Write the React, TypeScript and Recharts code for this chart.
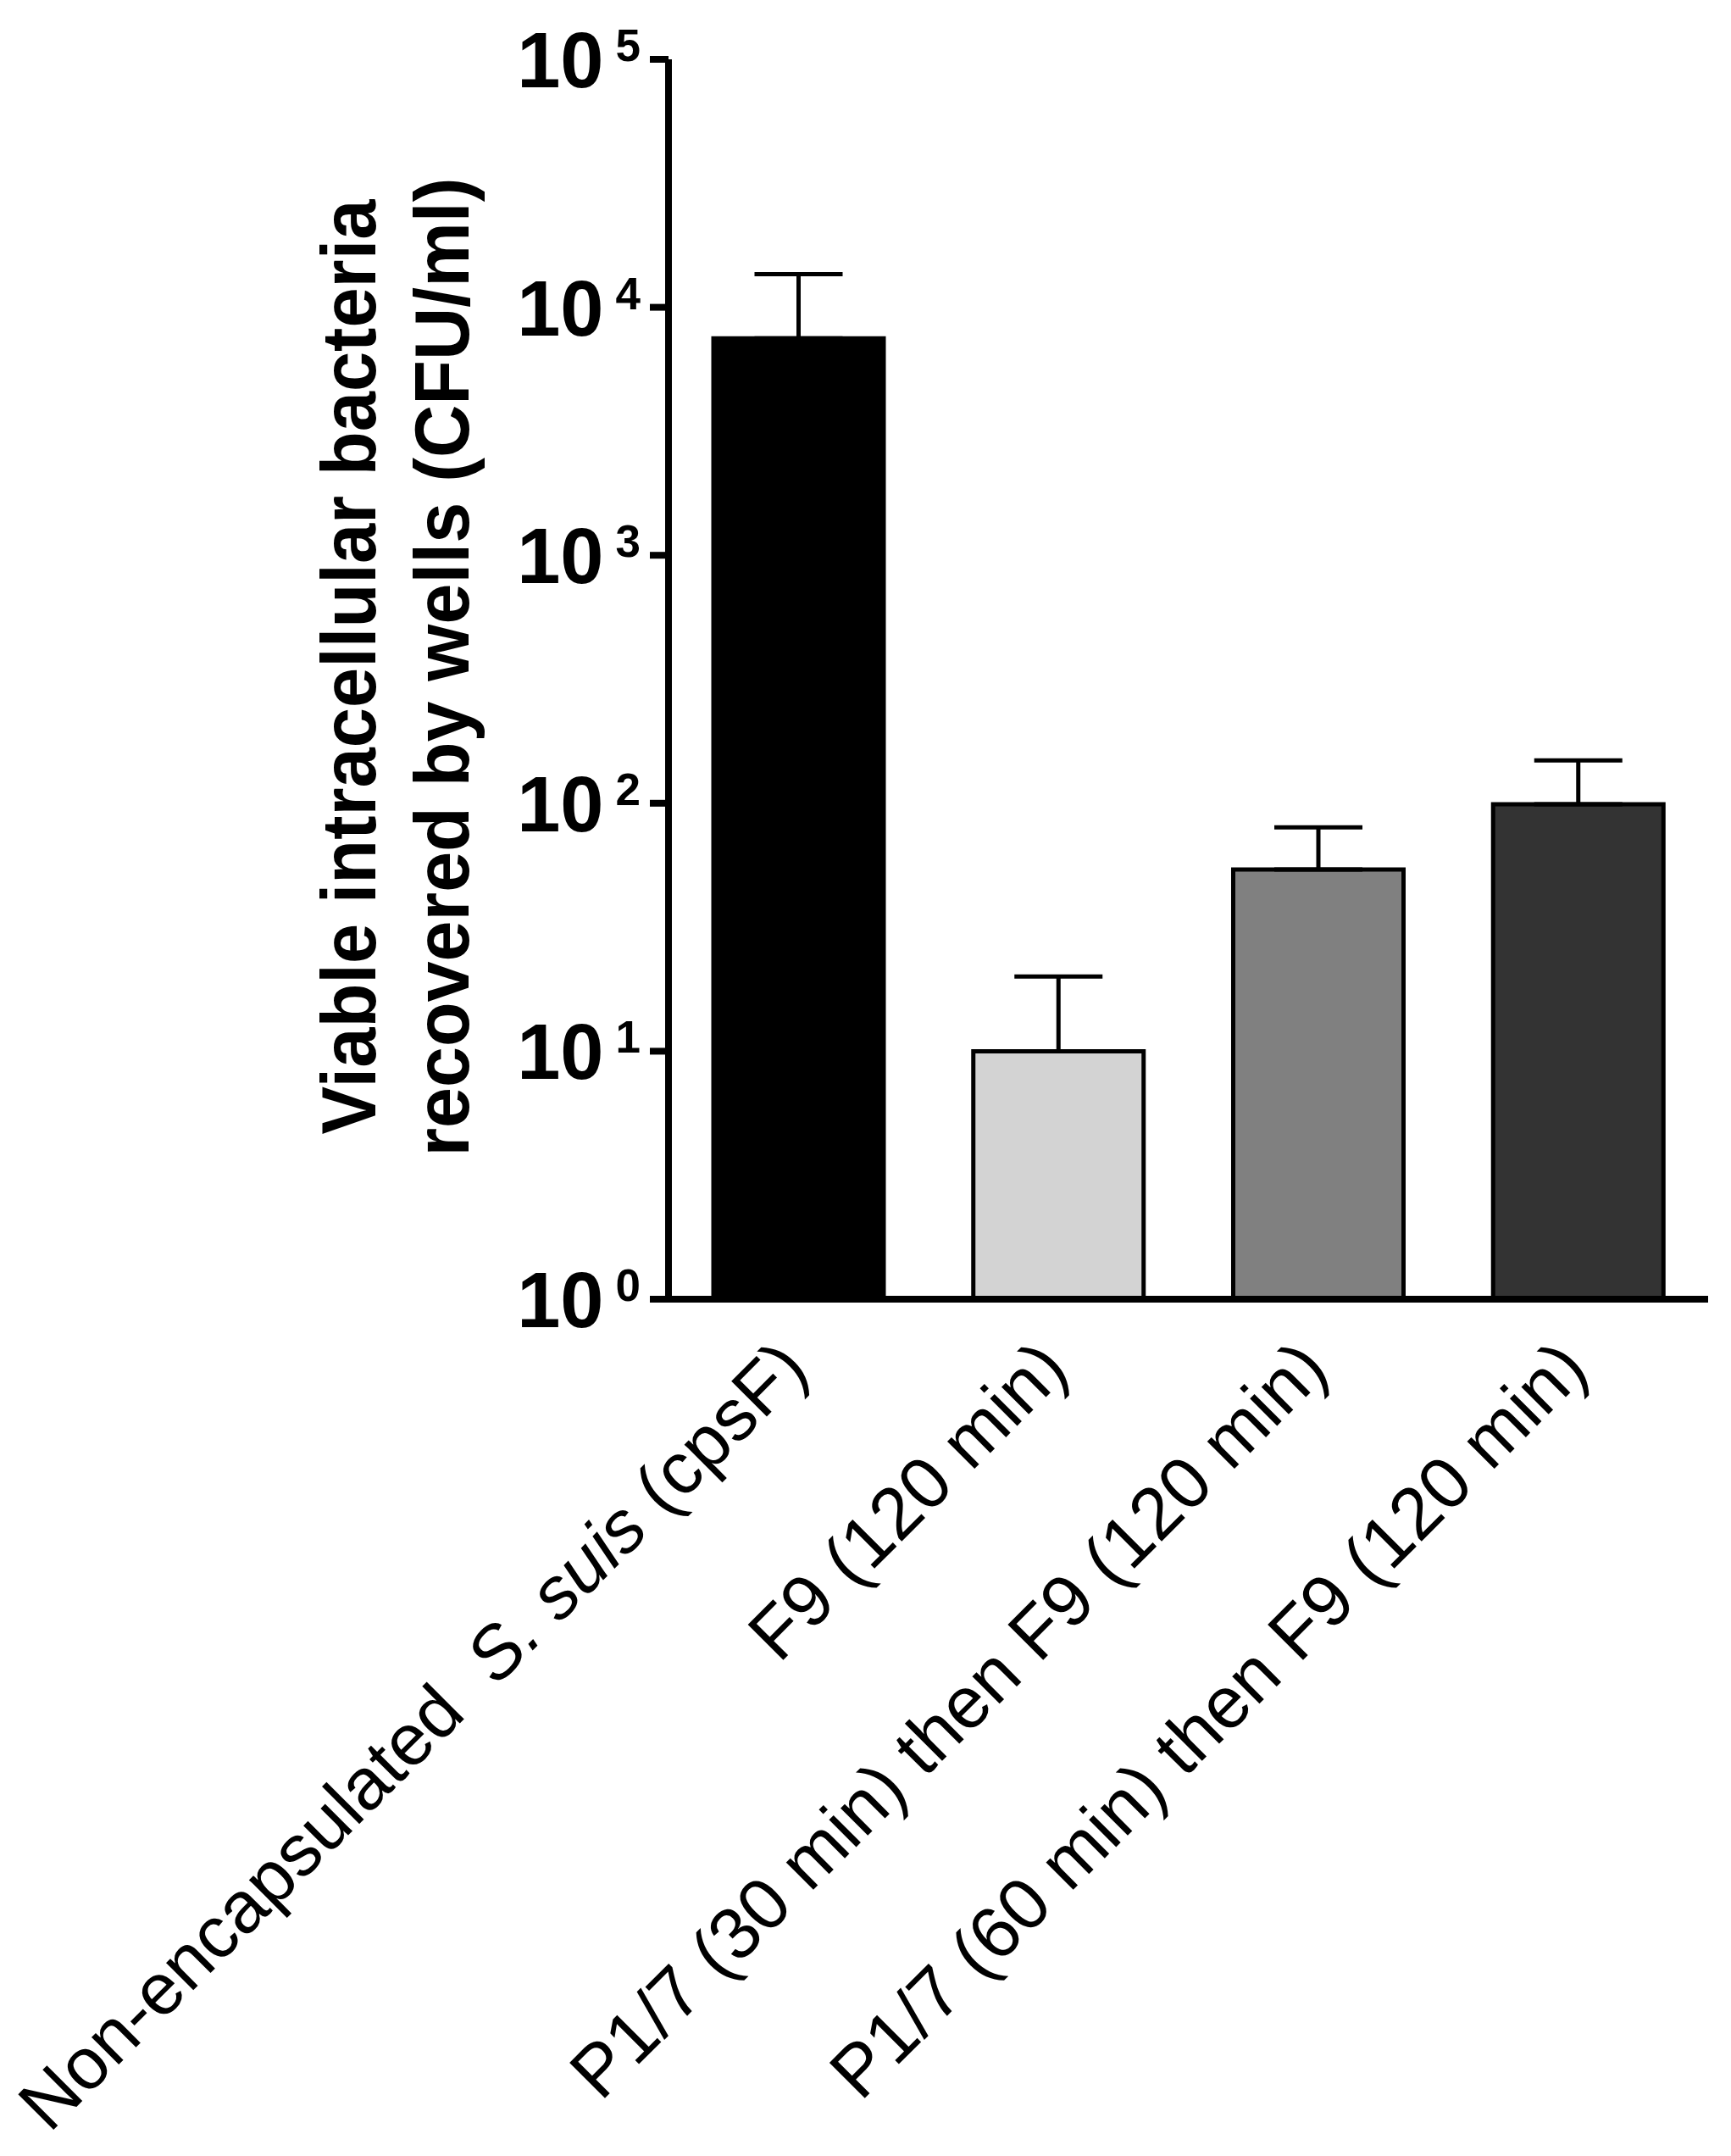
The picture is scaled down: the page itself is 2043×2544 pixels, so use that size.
import React from 'react';
import { BarChart, Bar, XAxis, YAxis, ErrorBar, Cell } from 'recharts';

const FONT = '"Liberation Sans", Arial, Helvetica, sans-serif';

const categories = [
  'Non-encapsulated  S. suis (cpsF)',
  'F9 (120 min)',
  'P1/7 (30 min) then F9 (120 min)',
  'P1/7 (60 min) then F9 (120 min)',
];
const values = [7500, 10, 54, 99];
const errorsUp = [6100, 10, 26, 50];
const barColors = ['#000000', '#d3d3d3', '#808080', '#333333'];
const yTicks = [1, 10, 100, 1000, 10000, 100000];
const yTickExponents = ['0', '1', '2', '3', '4', '5'];
const yTitleLines = ['Viable intracellular bacteria', 'recovered by wells (CFU/ml)'];
const italicPart = 'S. suis';

const data = categories.map((name, i) => ({
  name,
  value: values[i],
  err: [0, errorsUp[i]],
}));

const YTick = (props: any) => {
  const { x, y, payload } = props;
  const idx = yTicks.indexOf(payload.value);
  const exp = idx >= 0 ? yTickExponents[idx] : '';
  return (
    <text x={x} y={y} textAnchor="end" fontFamily={FONT} fontWeight="bold" fill="#000">
      <tspan fontSize={92} dy={33}>10</tspan>
      <tspan fontSize={53} dx={14} dy={-31}>{exp}</tspan>
    </text>
  );
};

const XTick = (props: any) => {
  const { x, y, payload } = props;
  const label: string = payload.value;
  const parts = label.split(/(S\. suis)/);
  return (
    <g transform={`translate(${x + 15},${y + 86})`}>
      <text
        transform="rotate(-45)"
        textAnchor="end"
        fontSize={86}
        fontFamily={FONT}
        fill="#000"
        xmlSpace="preserve"
        style={{ whiteSpace: 'pre' }}
      >
        {parts.map((p, i) => (
          <tspan key={i} fontStyle={p === italicPart ? 'italic' : 'normal'}>
            {p}
          </tspan>
        ))}
      </text>
    </g>
  );
};

const YTitle = () => (
  <g>
    <text
      transform="translate(443,787) rotate(-90)"
      textAnchor="middle"
      fontSize={90}
      fontWeight="bold"
      fontFamily={FONT}
      fill="#000"
      textLength={1103}
      lengthAdjust="spacingAndGlyphs"
    >
      {yTitleLines[0]}
    </text>
    <text
      transform="translate(553,787) rotate(-90)"
      textAnchor="middle"
      fontSize={90}
      fontWeight="bold"
      fontFamily={FONT}
      fill="#000"
      textLength={1155}
      lengthAdjust="spacingAndGlyphs"
    >
      {yTitleLines[1]}
    </text>
  </g>
);

export default function App() {
  return (
    <div style={{ position: 'absolute', left: 0, top: 0, width: 2043, height: 2544, background: '#fff' }}>
      <BarChart
        width={2043}
        height={2544}
        data={data}
        margin={{ top: 70, right: 27, bottom: 0, left: 0 }}
      >
        <XAxis
          dataKey="name"
          type="category"
          height={1011}
          interval={0}
          axisLine={{ stroke: '#000', strokeWidth: 8 }}
          tickLine={false}
          tickSize={0}
          tickMargin={0}
          tick={(p: any) => <XTick {...p} />}
        />
        <YAxis
          type="number"
          scale="log"
          domain={[1, 100000]}
          ticks={yTicks}
          interval={0}
          allowDataOverflow
          width={789}
          axisLine={{ stroke: '#000', strokeWidth: 8 }}
          tickLine={{ stroke: '#000', strokeWidth: 8 }}
          tickSize={22}
          tickMargin={11}
          tick={(p: any) => <YTick {...p} />}
          label={<YTitle />}
        />
        <Bar dataKey="value" barSize={201} stroke="#000" strokeWidth={5} isAnimationActive={false}>
          {data.map((d, i) => (
            <Cell key={d.name} fill={barColors[i]} />
          ))}
          <ErrorBar
            dataKey="err"
            direction="y"
            width={52}
            stroke="#000"
            strokeWidth={5}
            isAnimationActive={false}
          />
        </Bar>
      </BarChart>
    </div>
  );
}
